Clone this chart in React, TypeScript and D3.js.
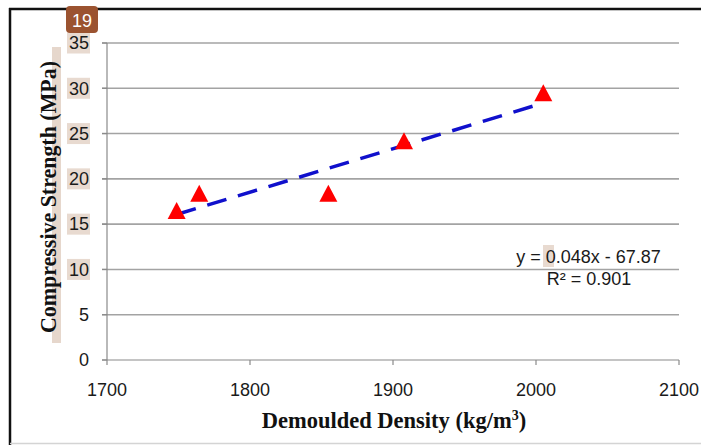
import * as d3 from "d3";
import React from "react";

// measured points (density kg/m3, strength MPa)
const density = [1748.7, 1764.5, 1854.8, 1907.7, 2005.1];
const strength = [16.5, 18.4, 18.4, 24.2, 29.5];
const yTicks = [0, 5, 10, 15, 20, 25, 30, 35];
const xTicks = [1700, 1800, 1900, 2000, 2100];
const highlighted = [10, 15, 20, 25, 30, 35];
const slope = 0.048;
const intercept = -67.87;
const eqText = "y = 0.048x - 67.87";
const r2Text = "R² = 0.901";

const W = 701;
const H = 445;

export default function App() {
  const x = d3.scaleLinear().domain([1700, 2100]).range([107, 679]);
  const y = d3.scaleLinear().domain([0, 35]).range([360, 43]);

  const tri = (cx: number, cy: number) => {
    const p = d3.path();
    p.moveTo(cx, cy - 8.5);
    p.lineTo(cx + 9, cy + 8.5);
    p.lineTo(cx - 9, cy + 8.5);
    p.closePath();
    return p.toString();
  };

  const xMin = d3.min(density)!;
  const xMax = d3.max(density)!;
  const trend = d3
    .line<number>()
    .x((d) => x(d))
    .y((d) => y(slope * d + intercept))([xMin, xMax]);

  const sans = "'Liberation Sans', Arial, sans-serif";
  const serif = "'Liberation Serif', 'Times New Roman', serif";

  return (
    <svg
      width={W}
      height={H}
      style={{ position: "absolute", left: 0, top: 0, background: "#fff" }}
    >
      {/* frame */}
      <line x1={9} x2={W} y1={9} y2={9} stroke="#111" strokeWidth={2.5} />
      <line x1={10} x2={10} y1={8} y2={H} stroke="#111" strokeWidth={2.5} />
      <line x1={10} x2={W} y1={443.5} y2={443.5} stroke="#d4d4d4" strokeWidth={1.5} />

      {/* grid */}
      {yTicks.slice(1).map((t) => (
        <line key={t} x1={102} x2={679} y1={y(t)} y2={y(t)} stroke="#a3a3a3" strokeWidth={1.6} />
      ))}

      {/* axes */}
      <line x1={107} x2={107} y1={y(35)} y2={y(0)} stroke="#8a8a8a" strokeWidth={1.2} />
      <line x1={102} x2={679} y1={y(0)} y2={y(0)} stroke="#8a8a8a" strokeWidth={1.2} />
      {yTicks.map((t) => (
        <line key={t} x1={102} x2={107} y1={y(t)} y2={y(t)} stroke="#8a8a8a" strokeWidth={1.2} />
      ))}
      {xTicks.map((t) => (
        <line key={t} x1={x(t)} x2={x(t)} y1={y(0)} y2={y(0) + 5} stroke="#8a8a8a" strokeWidth={1.2} />
      ))}

      {/* y tick labels */}
      {highlighted.map((t) => (
        <rect key={t} x={67} y={y(t) - 10.5} width={23} height={21} fill="#e8dad0" />
      ))}
      {yTicks.map((t) => (
        <text
          key={t}
          x={89}
          y={y(t)}
          dy="0.35em"
          textAnchor="end"
          fontFamily={sans}
          fontSize={18}
          fill="#1a1a1a"
        >
          {t}
        </text>
      ))}

      {/* x tick labels */}
      {xTicks.map((t) => (
        <text key={t} x={x(t)} y={396} textAnchor="middle" fontFamily={sans} fontSize={18} fill="#1a1a1a">
          {t}
        </text>
      ))}

      {/* trendline */}
      <path d={trend!} fill="none" stroke="#1010cc" strokeWidth={3.5} strokeDasharray="20 12" />

      {/* points */}
      {density.map((d, i) => (
        <path key={i} d={tri(x(d), y(strength[i]))} fill="#ff0000" />
      ))}

      {/* equation */}
      <rect x={543} y={245} width={11} height={22} fill="#e8dad0" />
      <text x={588.5} y={263} textAnchor="middle" fontFamily={sans} fontSize={18} fill="#1a1a1a">
        {eqText}
      </text>
      <text x={589} y={285} textAnchor="middle" fontFamily={sans} fontSize={18} fill="#1a1a1a">
        {r2Text}
      </text>

      {/* y title */}
      <rect x={52} y={47} width={9} height={296} fill="#e6d7cc" />
      <text
        transform="translate(55.5,197) rotate(-90)"
        textAnchor="middle"
        fontFamily={serif}
        fontWeight="bold"
        fontSize={24}
        textLength={272}
        lengthAdjust="spacingAndGlyphs"
        fill="#111"
      >
        Compressive Strength (MPa)
      </text>

      {/* x title */}
      <text x={394} y={427.5} textAnchor="middle" fontFamily={serif} fontWeight="bold" fontSize={22.5} fill="#111">
        Demoulded Density (kg/m
        <tspan fontSize={14} dy={-8}>3</tspan>
        <tspan dy={8}>)</tspan>
      </text>

      {/* page badge */}
      <rect x={66} y={6} width={32} height={27} rx={4} fill="#9b5330" />
      <text x={82} y={26.5} textAnchor="middle" fontFamily={sans} fontSize={18} fill="#fff">
        19
      </text>
    </svg>
  );
}
